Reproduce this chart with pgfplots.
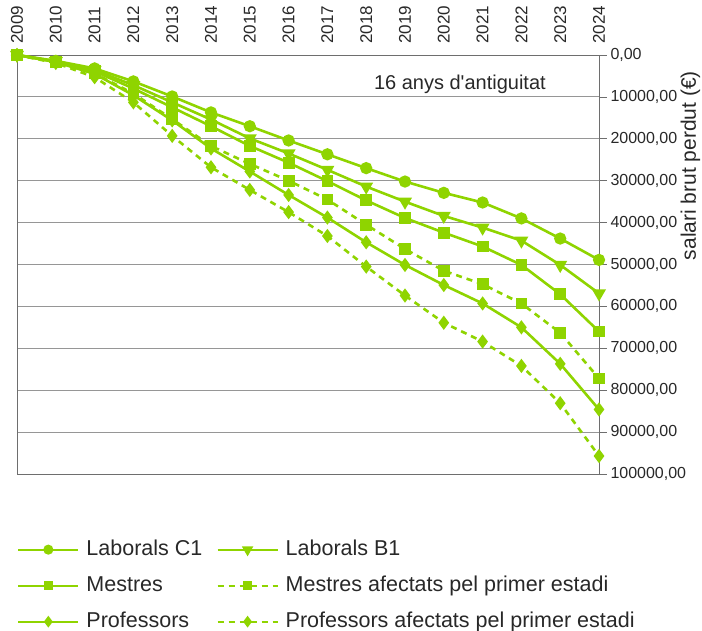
\documentclass[border=0pt]{standalone}
\usepackage{fontspec}
\setmainfont{Liberation Sans}
\usepackage{pgfplots}
\pgfplotsset{compat=1.18}
\usepackage{pgfplotstable}
\definecolor{lime}{RGB}{143,212,0}
\definecolor{gridc}{RGB}{150,150,150}
\definecolor{axc}{RGB}{110,110,110}
\definecolor{txt}{RGB}{40,40,40}

\pgfplotstableread{
year C1 B1 M MA P PA
2009 0 0 0 0 0 0
2010 1400 1500 1600 1700 1700 1900
2011 3200 3600 3900 4400 4500 5300
2012 6300 7200 8000 9200 9600 11300
2013 9900 11300 12500 15300 15600 19300
2014 13700 15400 17000 21700 22300 26800
2015 17000 19900 21700 26000 27800 32200
2016 20400 23500 25700 30000 33400 37500
2017 23700 27400 30100 34500 38800 43200
2018 27000 31400 34700 40500 44700 50500
2019 30200 35000 38900 46300 50100 57400
2020 32900 38400 42400 51500 54900 63900
2021 35200 41200 45700 54700 59300 68400
2022 39000 44300 50100 59300 65000 74200
2023 43800 50100 57100 66300 73700 83100
2024 48900 56900 66000 77200 84600 95700
}\data

\begin{document}
\begin{tikzpicture}
\useasboundingbox (-17bp,-157bp) rectangle (685bp,474bp);
\begin{axis}[
  at={(0,0)}, anchor=south west,
  scale only axis, width=582bp, height=419bp,
  clip=false,
  xmin=2009, xmax=2024, ymin=0, ymax=100000, y dir=reverse,
  xtick={2009,2010,...,2024},
  xticklabel pos=upper,
  x tick label style={rotate=90, anchor=west, text=txt, font=\fontsize{17bp}{20bp}\selectfont},
  xtick style={draw=none},
  ytick={0,10000,...,100000},
  yticklabel pos=right,
  ytick pos=right,
  tick align=outside,
  major tick length=8bp,
  ytick style={draw=axc, line width=0.8bp},
  y tick label style={text=txt, font=\fontsize{16bp}{19bp}\selectfont},
  ymajorgrids, grid style={gridc, line width=0.9bp},
  axis line style={axc, line width=0.9bp},
  scaled y ticks=false,
  /pgf/number format/assume math mode=true,
  /pgf/number format/1000 sep={},
  yticklabel={\pgfmathprintnumber[fixed, fixed zerofill, precision=2, use comma, 1000 sep={}]{\tick}},
  every axis plot/.append style={lime, line width=2.6bp, mark options={solid, fill=lime}},
  legend columns=2,
  legend cell align=left,
  legend image code/.code={\draw[mark repeat=2,mark phase=2,#1, line width=2.3bp, every mark/.append style={scale=0.8}] plot coordinates {(0bp,0bp)(30bp,0bp)(60bp,0bp)};},
  legend style={at={(axis description cs:0.0,-0.155)}, anchor=north west, draw=none, fill=none, inner sep=0pt,
    font=\fontsize{21.5bp}{24bp}\selectfont, text=txt,
    nodes={inner sep=0pt, text height=16bp, text depth=5bp},
    /tikz/every odd column/.append style={column sep=7bp},
    /tikz/every even column/.append style={column sep=14bp},
    row sep=15bp},
]
\addplot[mark=*, mark size=4.8bp] table[x=year, y=C1] {\data};
\addlegendentry{Laborals C1}
\addplot[mark=triangle*, mark size=5.5bp, mark options={rotate=180}] table[x=year, y=B1] {\data};
\addlegendentry{Laborals B1}
\addplot[mark=square*, mark size=4.6bp] table[x=year, y=M] {\data};
\addlegendentry{Mestres}
\addplot[dash pattern=on 6bp off 5bp, mark=square*, mark size=4.6bp] table[x=year, y=MA] {\data};
\addlegendentry{Mestres afectats pel primer estadi}
\addplot[mark=diamond*, mark size=5bp] table[x=year, y=P] {\data};
\addlegendentry{Professors}
\addplot[dash pattern=on 6bp off 5bp, mark=diamond*, mark size=5bp] table[x=year, y=PA] {\data};
\addlegendentry{Professors afectats pel primer estadi}
\node[font=\fontsize{20bp}{23bp}\selectfont, text=txt] at (axis description cs:0.761,0.931) {16 anys d\textquotesingle antiguitat};
\node[font=\fontsize{21bp}{24bp}\selectfont, text=txt, rotate=90, inner sep=0pt] at (axis description cs:1.157,0.736) {salari brut perdut (€)};
\end{axis}
\end{tikzpicture}
\end{document}
